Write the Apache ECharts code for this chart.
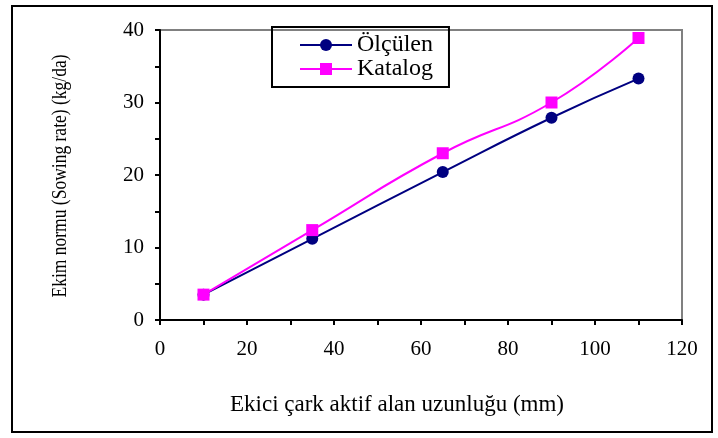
<!DOCTYPE html>
<html><head><meta charset="utf-8">
<script src="https://cdn.jsdelivr.net/npm/echarts@6/dist/echarts.min.js"></script>
<style>html,body{margin:0;padding:0;background:#fff}#c{width:718px;height:438px}</style>
</head><body><div id="c"></div>
<script>
const xValues = [10, 35, 65, 90, 110];
const olculen = [3.5, 11.2, 20.4, 27.9, 33.3];
const katalog = [3.5, 12.4, 23.0, 30.0, 38.9];
const seriesNames = ['Ölçülen', 'Katalog'];
const xTitle = 'Ekici çark aktif alan uzunluğu (mm)';
const yTitle = 'Ekim normu (Sowing rate) (kg/da)';

const font = '"Liberation Serif", "Times New Roman", serif';
const chart = echarts.init(document.getElementById('c'));
chart.setOption({
  animation: false,
  backgroundColor: '#fff',
  graphic: [
    {type:'rect', shape:{x:12,y:6,width:700,height:426}, style:{fill:'none', stroke:'#000', lineWidth:2}, z:-1},
    {type:'text', x:60, y:176, rotation:Math.PI/2, scaleY:1.25,
     style:{text:yTitle, align:'center', verticalAlign:'middle', fontFamily:font, fontSize:17.5, fill:'#000'}}
  ],
  grid: {left:160, top:30, right:36, bottom:118, show:true, borderColor:'#808080', borderWidth:2, backgroundColor:'#fff'},
  legend: {
    orient:'vertical', left:272, top:27,
    borderColor:'#000', borderWidth:2, padding:[6,16,6,27],
    itemWidth:52, itemHeight:15, itemGap:0,
    textStyle:{fontFamily:font, fontSize:24, color:'#000'},
    data: seriesNames
  },
  xAxis: {
    type:'value', min:0, max:120, interval:10,
    name:xTitle, nameLocation:'middle', nameGap:73,
    nameTextStyle:{fontFamily:font, fontSize:23, color:'#000', padding:[0,48,0,0]},
    axisLine:{lineStyle:{color:'#000', width:2}},
    axisTick:{show:true, length:5, lineStyle:{color:'#000', width:2}},
    axisLabel:{fontFamily:font, fontSize:21, color:'#000', margin:19,
      formatter: v => (v % 20 === 0 ? String(v) : '')},
    splitLine:{show:false}
  },
  yAxis: {
    type:'value', min:0, max:40, interval:5,
    axisLine:{show:true, lineStyle:{color:'#000', width:2}},
    axisTick:{show:true, length:5, lineStyle:{color:'#000', width:2}},
    axisLabel:{fontFamily:font, fontSize:21, color:'#000', margin:16,
      formatter: v => (v % 10 === 0 ? String(v) : '')},
    splitLine:{show:false}
  },
  series: [
    {name:seriesNames[0], type:'line', smooth:true, data:xValues.map((x,i)=>[x, olculen[i]]),
     symbol:'circle', symbolSize:12, lineStyle:{color:'#000080', width:2}, itemStyle:{color:'#000080'}},
    {name:seriesNames[1], type:'line', smooth:true, data:xValues.map((x,i)=>[x, katalog[i]]),
     symbol:'rect', symbolSize:12, lineStyle:{color:'#FF00FF', width:2}, itemStyle:{color:'#FF00FF'}}
  ]
});
</script></body></html>
